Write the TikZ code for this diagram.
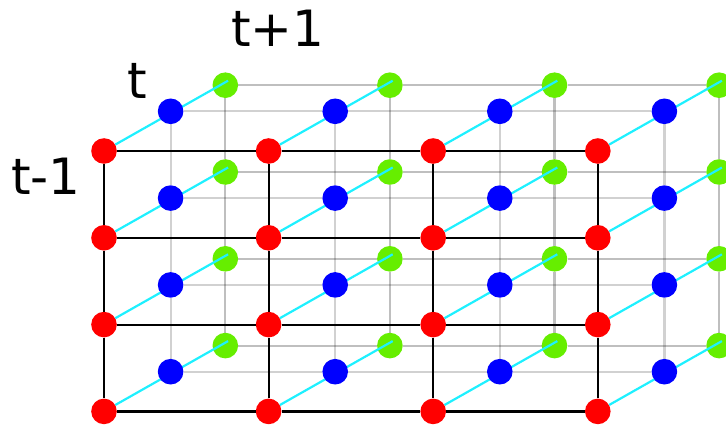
\documentclass[tikz,border=0pt]{standalone}
\usepackage{fontspec}
\setmainfont{DejaVu Sans}
\definecolor{gdot}{RGB}{102,238,0}
\definecolor{cyl}{RGB}{30,240,255}
\pgfdeclarelayer{back}
\pgfdeclarelayer{mid}
\pgfsetlayers{back,mid,main}
\begin{document}
\begin{tikzpicture}[x=1pt,y=-1pt,
  dot/.style={circle,inner sep=0pt,minimum size=25.6pt,draw=none},
  reddot/.style={dot,fill=red},
  bluedot/.style={dot,fill=blue},
  greendot/.style={dot,fill=gdot},
  blackline/.style={draw=black,line width=2.2pt},
  grayb/.style={draw=black,opacity=0.18,line width=2.2pt},
  grayg/.style={draw=black,opacity=0.25,line width=2.2pt},
  cyanline/.style={draw=cyl,line width=2.2pt},
  lbl/.style={anchor=base,font=\fontsize{50}{60}\selectfont}]
\useasboundingbox (0,0) rectangle (726,425);
\clip (0,0) rectangle (726,425);
\foreach \i in {0,...,3}{
  \foreach \j in {0,...,3}{
    \pgfmathsetmacro\rx{104+164.6*\i}
    \pgfmathsetmacro\ry{151+86.8*\j}
    \begin{pgfonlayer}{back}
      \node[greendot] (g-\i-\j) at (\rx+121.3,\ry-65.8) {};
    \end{pgfonlayer}
    \node[bluedot] (b-\i-\j) at (\rx+66.6,\ry-39.7) {};
    \node[reddot] (r-\i-\j) at (\rx,\ry) {};
    \coordinate (c-\i-\j) at (\rx+124.1,\ry-70.3);
  }
}
% grid lines
\foreach \i/\n in {0/1,1/2,2/3}{
  \foreach \j in {0,...,3}{
    \begin{pgfonlayer}{back}
      \draw[grayb] (b-\i-\j) -- (b-\n-\j);
      \draw[grayg] (g-\i-\j) -- (g-\n-\j);
      \draw[grayb] (b-\j-\i) -- (b-\j-\n);
      \draw[grayg] (g-\j-\i) -- (g-\j-\n);
    \end{pgfonlayer}
    \draw[blackline] (r-\i-\j) -- (r-\n-\j);
    \draw[blackline] (r-\j-\i) -- (r-\j-\n);
  }
}
% cyan connectors
\foreach \i in {0,...,3}{
  \foreach \j in {0,...,3}{
    \begin{pgfonlayer}{mid}
      \draw[cyanline] (r-\i-\j) -- (c-\i-\j);
    \end{pgfonlayer}
  }
}
\node[lbl] (l2) at (278,46.7) {t+1};
\node[lbl] (l1) at (137,98.3) {t};
\node[lbl] (l0) at (46,195) {t-1};
\end{tikzpicture}
\end{document}
